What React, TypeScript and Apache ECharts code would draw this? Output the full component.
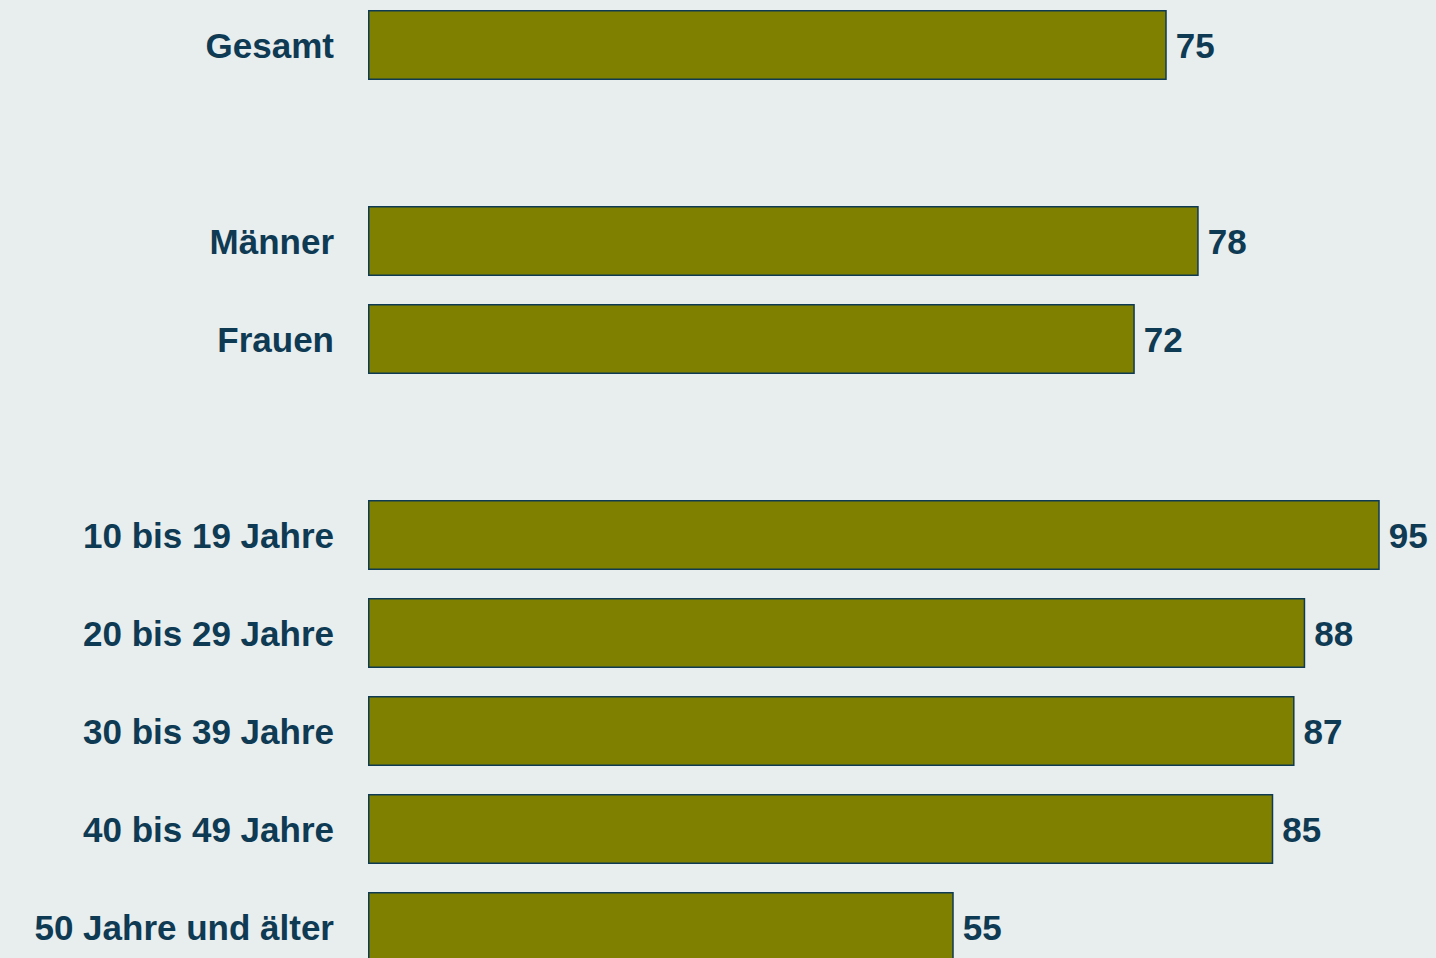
import React, { useEffect, useRef } from "react";
import * as echarts from "echarts";

const categories = [
  "Gesamt",
  "",
  "Männer",
  "Frauen",
  " ",
  "10 bis 19 Jahre",
  "20 bis 29 Jahre",
  "30 bis 39 Jahre",
  "40 bis 49 Jahre",
  "50 Jahre und älter",
];
const values: (number | null)[] = [75, null, 78, 72, null, 95, 88, 87, 85, 55];

const TEXT = "#0e3a53";
const BG = "#e8edee";

export default function App() {
  const ref = useRef<HTMLDivElement>(null);
  useEffect(() => {
    if (!ref.current) return;
    const chart = echarts.init(ref.current, null, { renderer: "svg" });
    chart.setOption({
      animation: false,
      backgroundColor: BG,
      grid: { left: 368, right: 3, top: 0, bottom: 0, containLabel: false },
      xAxis: {
        type: "value",
        min: 0,
        max: 100,
        show: false,
      },
      yAxis: {
        type: "category",
        data: categories,
        inverse: true,
        axisLine: { show: false },
        axisTick: { show: false },
        splitLine: { show: false },
        axisLabel: {
          color: TEXT,
          fontFamily: "Liberation Sans, Arial, sans-serif",
          fontWeight: "bold",
          fontSize: 35,
          margin: 34,
        },
      },
      series: [
        {
          type: "bar",
          data: values,
          barWidth: 70,
          itemStyle: { color: "#808000", borderColor: TEXT, borderWidth: 1.5 },
          label: {
            show: true,
            position: "right",
            distance: 9,
            color: TEXT,
            fontFamily: "Liberation Sans, Arial, sans-serif",
            fontWeight: "bold",
            fontSize: 35,
          },
        },
      ],
    });
    return () => chart.dispose();
  }, []);
  return (
    <div
      ref={ref}
      style={{ position: "fixed", left: 0, top: -4, width: 1436, height: 980 }}
    />
  );
}
